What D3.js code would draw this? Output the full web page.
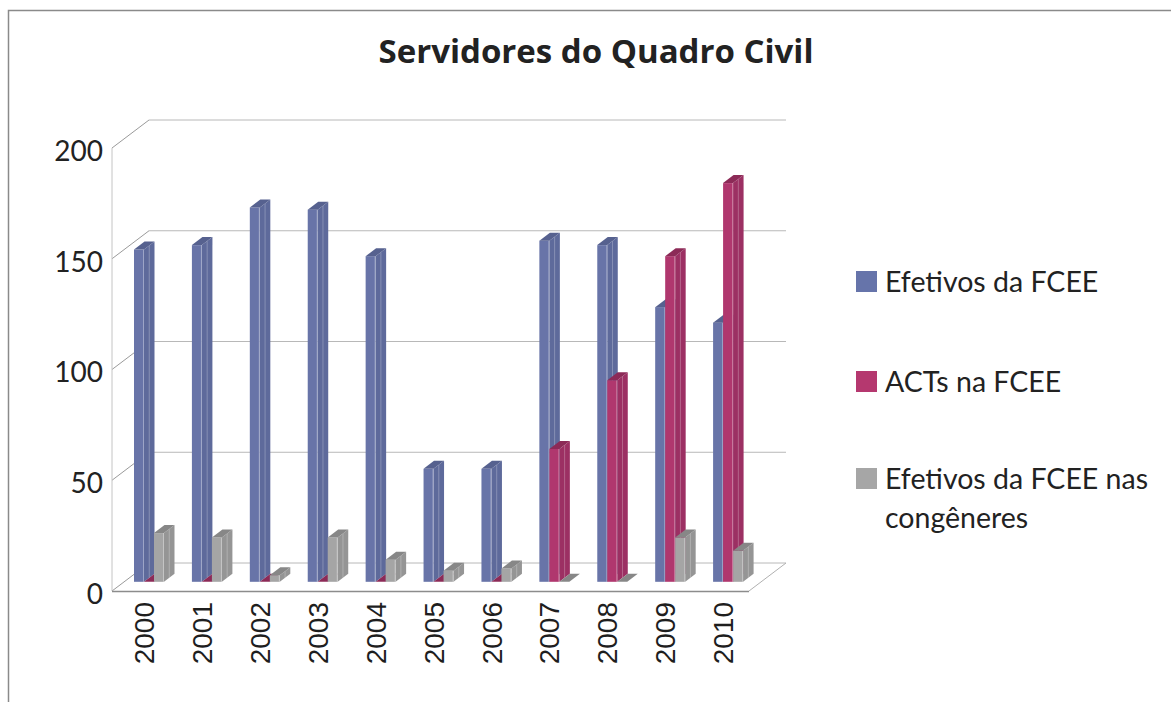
<!DOCTYPE html>
<html>
<head>
<meta charset="utf-8">
<script src="https://cdn.jsdelivr.net/npm/d3@7"></script>
<style>
  body { margin: 0; background: #fff; }
  svg { display: block; }
</style>
</head>
<body>
<svg id="chart" width="1171" height="702"></svg>
<script>
var svg = d3.select('#chart');

// data
var years = ['2000', '2001', '2002', '2003', '2004', '2005', '2006', '2007', '2008', '2009', '2010'];
var efetivos = [150, 152, 169, 168, 147, 51, 51, 154, 152, 124, 117];
var acts = [0, 0, 0, 0, 0, 0, 0, 60, 91, 147, 180];
var congeneres = [22, 20, 3, 20, 10, 5, 6, 0, 0, 20, 14];
var seriesNames = ['Efetivos da FCEE', 'ACTs na FCEE', 'Efetivos da FCEE nas congêneres'];
var yTicks = [0, 50, 100, 150, 200];

var seriesData = [efetivos, acts, congeneres];
var colors = [
  {front: '#6874a8', side: '#5e6a9b', top: '#56618f', legend: '#6674aa'},
  {front: '#b0376e', side: '#9c3063', top: '#8c2a57', legend: '#b5386f'},
  {front: '#a5a5a5', side: '#959595', top: '#878787', legend: '#a6a6a6'}
];

// 3d box parameters (oblique projection)
var depth = {dx: 37, dy: -28};     // full floor depth
var barOff = {dx: 12.2, dy: -9.2}; // where bar fronts sit in depth
var barDepth = {dx: 10.5, dy: -8}; // bar side/top offset
var barW = 10;

var x = d3.scaleBand().domain(years).range([112, 749]);
var x1 = d3.scaleBand().domain([0, 1, 2]).range([22, 22 + 3 * barW]);
var y = d3.scaleLinear().domain([0, 200]).range([591, 148]);

// outer frame
svg.append('rect')
  .attr('x', 8.5).attr('y', 10.5)
  .attr('width', 1300).attr('height', 900)
  .attr('fill', 'none').attr('stroke', '#8a8a8a').attr('stroke-width', 1.5);

// title
svg.append('text')
  .attr('x', 596).attr('y', 63)
  .attr('text-anchor', 'middle')
  .style('font-family', '"Open Sans", sans-serif')
  .style('font-weight', 'bold')
  .style('font-size', '33px')
  .attr('fill', '#222')
  .text('Servidores do Quadro Civil');

// walls and gridlines
var gridG = svg.append('g');
var x0 = x.range()[0], xEnd = x.range()[1];

gridG.selectAll('line.back')
  .data(yTicks)
  .enter().append('line')
  .attr('class', 'back')
  .attr('x1', x0 + depth.dx).attr('x2', xEnd + depth.dx)
  .attr('y1', function(d) { return y(d) + depth.dy; })
  .attr('y2', function(d) { return y(d) + depth.dy; })
  .attr('stroke', '#b8b8b8');

gridG.selectAll('line.side')
  .data(yTicks)
  .enter().append('line')
  .attr('class', 'side')
  .attr('x1', x0).attr('x2', x0 + depth.dx)
  .attr('y1', function(d) { return y(d); })
  .attr('y2', function(d) { return y(d) + depth.dy; })
  .attr('stroke', '#9a9a9a');

gridG.append('line')
  .attr('x1', x0).attr('x2', x0)
  .attr('y1', y(200)).attr('y2', y(0))
  .attr('stroke', '#c4c4c4');

// floor edges
gridG.append('line')
  .attr('x1', xEnd).attr('x2', xEnd + depth.dx)
  .attr('y1', y(0)).attr('y2', y(0) + depth.dy)
  .attr('stroke', '#b0b0b0');

gridG.append('line')
  .attr('x1', x0).attr('x2', xEnd)
  .attr('y1', y(0) + 0.5).attr('y2', y(0) + 0.5)
  .attr('stroke', '#8c8c8c').attr('stroke-width', 1.5);

// y tick labels
svg.append('g').selectAll('text')
  .data(yTicks)
  .enter().append('text')
  .attr('x', 103)
  .attr('y', function(d) { return y(d) + 3; })
  .attr('dy', '0.35em')
  .attr('text-anchor', 'end')
  .style('font-family', 'Lato, sans-serif')
  .style('font-size', '28px')
  .attr('fill', '#222')
  .text(function(d) { return d; });

// x labels (rotated)
svg.append('g').selectAll('text')
  .data(years)
  .enter().append('text')
  .attr('transform', function(d) {
    return 'translate(' + (x(d) + x.bandwidth() / 2 + 3) + ',602) rotate(-90)';
  })
  .attr('dy', '0.36em')
  .attr('text-anchor', 'end')
  .style('font-family', 'Liberation Sans, Arial, sans-serif')
  .style('font-size', '28px')
  .attr('fill', '#1e1e1e')
  .text(function(d) { return d; });

// bars
var bars = [];
years.forEach(function(yr, i) {
  seriesData.forEach(function(s, j) {
    bars.push({year: yr, s: j, v: s[i]});
  });
});

var barG = svg.append('g');
var boxes = barG.selectAll('g.bar')
  .data(bars)
  .enter().append('g')
  .attr('class', 'bar');

function geom(d) {
  var left = x(d.year) + x1(d.s);
  var top = y(d.v) + barOff.dy;
  var bottom = y(0) + barOff.dy;
  return {l: left, r: left + barW, t: top, b: bottom};
}

boxes.append('rect')
  .attr('x', function(d) { return geom(d).l; })
  .attr('y', function(d) { return geom(d).t; })
  .attr('width', barW)
  .attr('height', function(d) { var g = geom(d); return g.b - g.t; })
  .attr('fill', function(d) { return colors[d.s].front; });

boxes.append('polygon')
  .attr('points', function(d) {
    var g = geom(d);
    return [[g.r, g.t], [g.r + barDepth.dx, g.t + barDepth.dy],
            [g.r + barDepth.dx, g.b + barDepth.dy], [g.r, g.b]].join(' ');
  })
  .attr('fill', function(d) { return colors[d.s].side; });

// light stripes like the bevel highlights
boxes.filter(function(d) { return d.v > 0; }).append('line')
  .attr('x1', function(d) { return geom(d).r - 0.5; })
  .attr('x2', function(d) { return geom(d).r - 0.5; })
  .attr('y1', function(d) { return geom(d).t; })
  .attr('y2', function(d) { return geom(d).b; })
  .attr('stroke', 'rgba(255,255,255,0.35)');

boxes.filter(function(d) { return d.v > 0; }).append('line')
  .attr('x1', function(d) { return geom(d).r + barDepth.dx / 2; })
  .attr('x2', function(d) { return geom(d).r + barDepth.dx / 2; })
  .attr('y1', function(d) { return geom(d).t + barDepth.dy / 2; })
  .attr('y2', function(d) { return geom(d).b + barDepth.dy / 2; })
  .attr('stroke', 'rgba(255,255,255,0.25)');

boxes.append('polygon')
  .attr('points', function(d) {
    var g = geom(d);
    return [[g.l, g.t], [g.r, g.t], [g.r + barDepth.dx, g.t + barDepth.dy],
            [g.l + barDepth.dx, g.t + barDepth.dy]].join(' ');
  })
  .attr('fill', function(d) { return colors[d.s].top; });

// legend
var legendY = [271, 371, 468];
var legend = svg.append('g').selectAll('g')
  .data(seriesNames)
  .enter().append('g')
  .attr('transform', function(d, i) { return 'translate(856,' + legendY[i] + ')'; });

legend.append('rect')
  .attr('width', 21).attr('height', 21)
  .attr('fill', function(d, i) { return colors[i].legend; });

legend.append('text')
  .attr('x', 29).attr('y', 21)
  .style('font-family', 'Lato, sans-serif')
  .style('font-size', '28.5px')
  .attr('fill', '#222')
  .each(function(d, i) {
    var t = d3.select(this);
    if (i === 2) {
      t.append('tspan').attr('x', 29).text('Efetivos da FCEE nas');
      t.append('tspan').attr('x', 29).attr('dy', 39).text('congêneres');
    } else {
      t.text(d);
    }
  });
</script>
</body>
</html>
